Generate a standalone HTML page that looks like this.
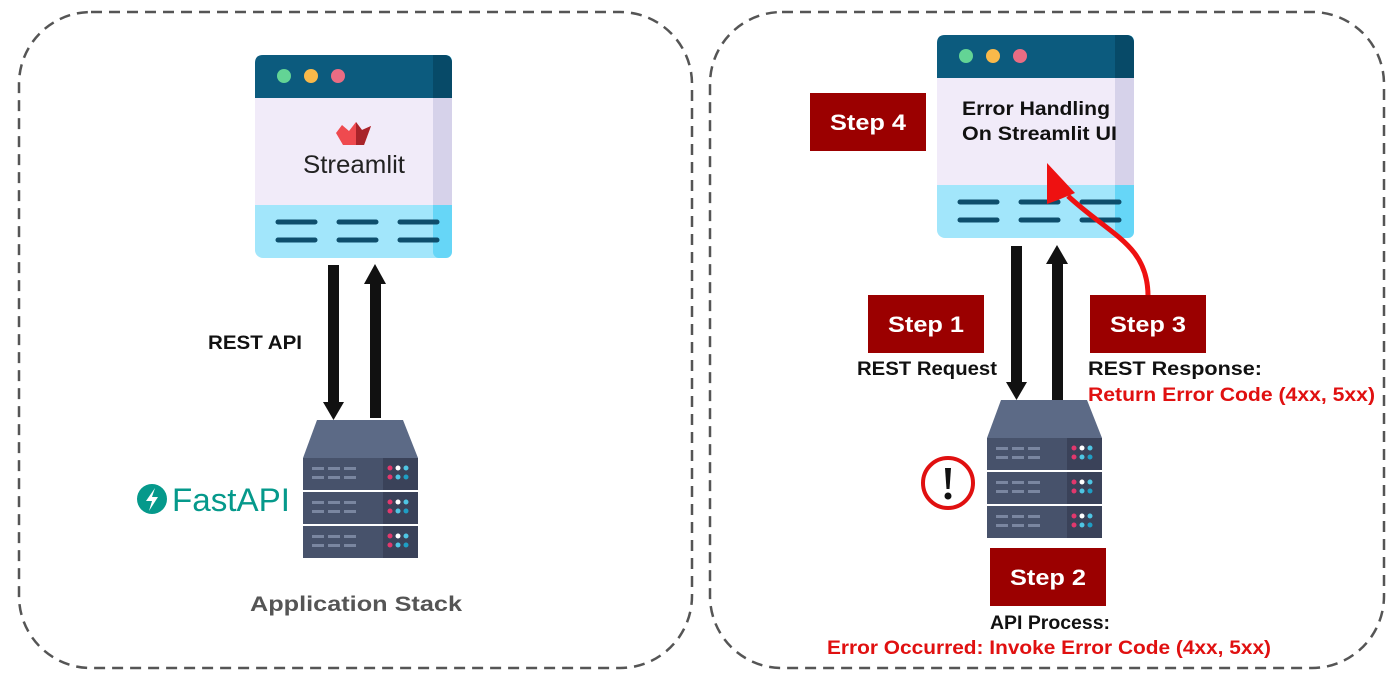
<!DOCTYPE html>
<html><head><meta charset="utf-8"><style>
html,body{margin:0;padding:0;background:#fff;}
svg{display:block;}
text{font-family:"Liberation Sans",sans-serif;}
</style></head><body>
<svg width="1400" height="684" viewBox="0 0 1400 684" xmlns="http://www.w3.org/2000/svg">
<defs>
<g id="srv">
  <path d="M14 0 H100 L115 38 H0 Z" fill="#5c6a86"/>
  <g id="unit">
    <rect x="0" y="38" width="115" height="32" fill="#47526b"/>
    <rect x="80" y="38" width="35" height="32" fill="#3a4259"/>
    <g fill="#7a86a0">
      <rect x="9" y="47" width="12" height="3"/><rect x="25" y="47" width="12" height="3"/><rect x="41" y="47" width="12" height="3"/>
      <rect x="9" y="56" width="12" height="3"/><rect x="25" y="56" width="12" height="3"/><rect x="41" y="56" width="12" height="3"/>
    </g>
    <circle cx="87" cy="48" r="2.5" fill="#e2386d"/><circle cx="95" cy="48" r="2.5" fill="#fff"/><circle cx="103" cy="48" r="2.5" fill="#4fc6e4"/>
    <circle cx="87" cy="57" r="2.5" fill="#e2386d"/><circle cx="95" cy="57" r="2.5" fill="#4fc6e4"/><circle cx="103" cy="57" r="2.5" fill="#1e9ec4"/>
  </g>
  <use href="#unit" y="34"/>
  <use href="#unit" y="68"/>
</g>
<g id="win">
  <rect x="0" y="0" width="197" height="203" rx="8" fill="#a2e6fb"/>
  <rect x="178" y="0" width="19" height="203" rx="6" fill="#66d6f7"/>
  <rect x="0" y="43" width="197" height="107" fill="#f1ebf9"/>
  <rect x="178" y="43" width="19" height="107" fill="#d6d2ea"/>
  <path d="M8 0 H189 Q197 0 197 8 V43 H0 V8 Q0 0 8 0 Z" fill="#0c5b7e"/>
  <path d="M178 0 H189 Q197 0 197 8 V43 H178 Z" fill="#074a68"/>
  <circle cx="29" cy="21" r="7" fill="#63d495"/><circle cx="56" cy="21" r="7" fill="#f9b94a"/><circle cx="83" cy="21" r="7" fill="#ea6c83"/>
  <g stroke="#0d4e6c" stroke-width="5" stroke-linecap="round">
    <line x1="23" y1="167" x2="60" y2="167"/><line x1="84" y1="167" x2="121" y2="167"/><line x1="145" y1="167" x2="182" y2="167"/>
    <line x1="23" y1="185" x2="60" y2="185"/><line x1="84" y1="185" x2="121" y2="185"/><line x1="145" y1="185" x2="182" y2="185"/>
  </g>
</g>
</defs>

<rect x="19" y="12" width="673" height="656" rx="72" fill="none" stroke="#555" stroke-width="2.5" stroke-dasharray="11 7"/>
<rect x="710" y="12" width="674" height="656" rx="72" fill="none" stroke="#555" stroke-width="2.5" stroke-dasharray="11 7"/>

<!-- left -->
<use href="#win" x="255" y="55"/>
<path d="M336 133 L342 125 L349 131 L356 122 L362 130 L371 126 L364 145 H343 Z" fill="#ef4a4f"/>
<path d="M356 122 L362 130 L371 126 L364 145 H356 Z" fill="#a8242a"/>
<text x="303" y="173" font-size="25" fill="#222" textLength="102" lengthAdjust="spacingAndGlyphs">Streamlit</text>

<rect x="328" y="265" width="11" height="140" fill="#111"/>
<path d="M323 402 H344 L333.5 420 Z" fill="#111"/>
<rect x="370" y="282" width="11" height="136" fill="#111"/>
<path d="M364 284 H386 L375 264 Z" fill="#111"/>
<text x="208" y="349" font-size="19" font-weight="bold" fill="#111" textLength="94" lengthAdjust="spacingAndGlyphs">REST API</text>

<use href="#srv" x="303" y="420"/>
<circle cx="152" cy="499" r="15" fill="#05998b"/>
<path d="M155 488 L146 501 H152 L149 511 L158 497 H152 Z" fill="#fff"/>
<text x="172" y="511" font-size="32" fill="#05998b" textLength="118" lengthAdjust="spacingAndGlyphs">FastAPI</text>
<text x="250" y="611" font-size="21" font-weight="bold" fill="#555" textLength="212" lengthAdjust="spacingAndGlyphs">Application Stack</text>

<!-- right -->
<use href="#win" x="937" y="35"/>
<text x="962" y="115" font-size="19" font-weight="bold" fill="#111" textLength="148" lengthAdjust="spacingAndGlyphs">Error Handling</text>
<text x="962" y="140" font-size="19" font-weight="bold" fill="#111" textLength="155" lengthAdjust="spacingAndGlyphs">On Streamlit UI</text>

<rect x="810" y="93" width="116" height="58" fill="#9b0000"/>
<text x="830" y="130" font-size="22" font-weight="bold" fill="#fff" textLength="76" lengthAdjust="spacingAndGlyphs">Step 4</text>

<rect x="1011" y="246" width="11" height="138" fill="#111"/>
<path d="M1006 382 H1027 L1016.5 400 Z" fill="#111"/>
<rect x="1052" y="262" width="11" height="138" fill="#111"/>
<path d="M1046 264 H1068 L1057 245 Z" fill="#111"/>

<path d="M1148 296 C1148 245 1110 235 1068 196" fill="none" stroke="#ee1111" stroke-width="5"/>
<path d="M1047 163 L1075 193 L1058 200 L1047 204 Z" fill="#ee1111"/>

<rect x="868" y="295" width="116" height="58" fill="#9b0000"/>
<text x="888" y="332" font-size="22" font-weight="bold" fill="#fff" textLength="76" lengthAdjust="spacingAndGlyphs">Step 1</text>
<text x="857" y="375" font-size="19" font-weight="bold" fill="#111" textLength="140" lengthAdjust="spacingAndGlyphs">REST Request</text>

<rect x="1090" y="295" width="116" height="58" fill="#9b0000"/>
<text x="1110" y="332" font-size="22" font-weight="bold" fill="#fff" textLength="76" lengthAdjust="spacingAndGlyphs">Step 3</text>
<text x="1088" y="375" font-size="19" font-weight="bold" fill="#111" textLength="174" lengthAdjust="spacingAndGlyphs">REST Response:</text>
<text x="1088" y="401" font-size="19" font-weight="bold" fill="#e01010" textLength="287" lengthAdjust="spacingAndGlyphs">Return Error Code (4xx, 5xx)</text>

<use href="#srv" x="987" y="400"/>
<circle cx="948" cy="483" r="25" fill="#fff" stroke="#e01010" stroke-width="4"/>
<path d="M945 468 H951 L949.5 489 H946.5 Z" fill="#111"/>
<circle cx="948" cy="496" r="3.5" fill="#111"/>

<rect x="990" y="548" width="116" height="58" fill="#9b0000"/>
<text x="1010" y="585" font-size="22" font-weight="bold" fill="#fff" textLength="76" lengthAdjust="spacingAndGlyphs">Step 2</text>
<text x="990" y="629" font-size="19" font-weight="bold" fill="#111" textLength="120" lengthAdjust="spacingAndGlyphs">API Process:</text>
<text x="827" y="654" font-size="19" font-weight="bold" fill="#e01010" textLength="444" lengthAdjust="spacingAndGlyphs">Error Occurred: Invoke Error Code (4xx, 5xx)</text>
</svg>
</body></html>
